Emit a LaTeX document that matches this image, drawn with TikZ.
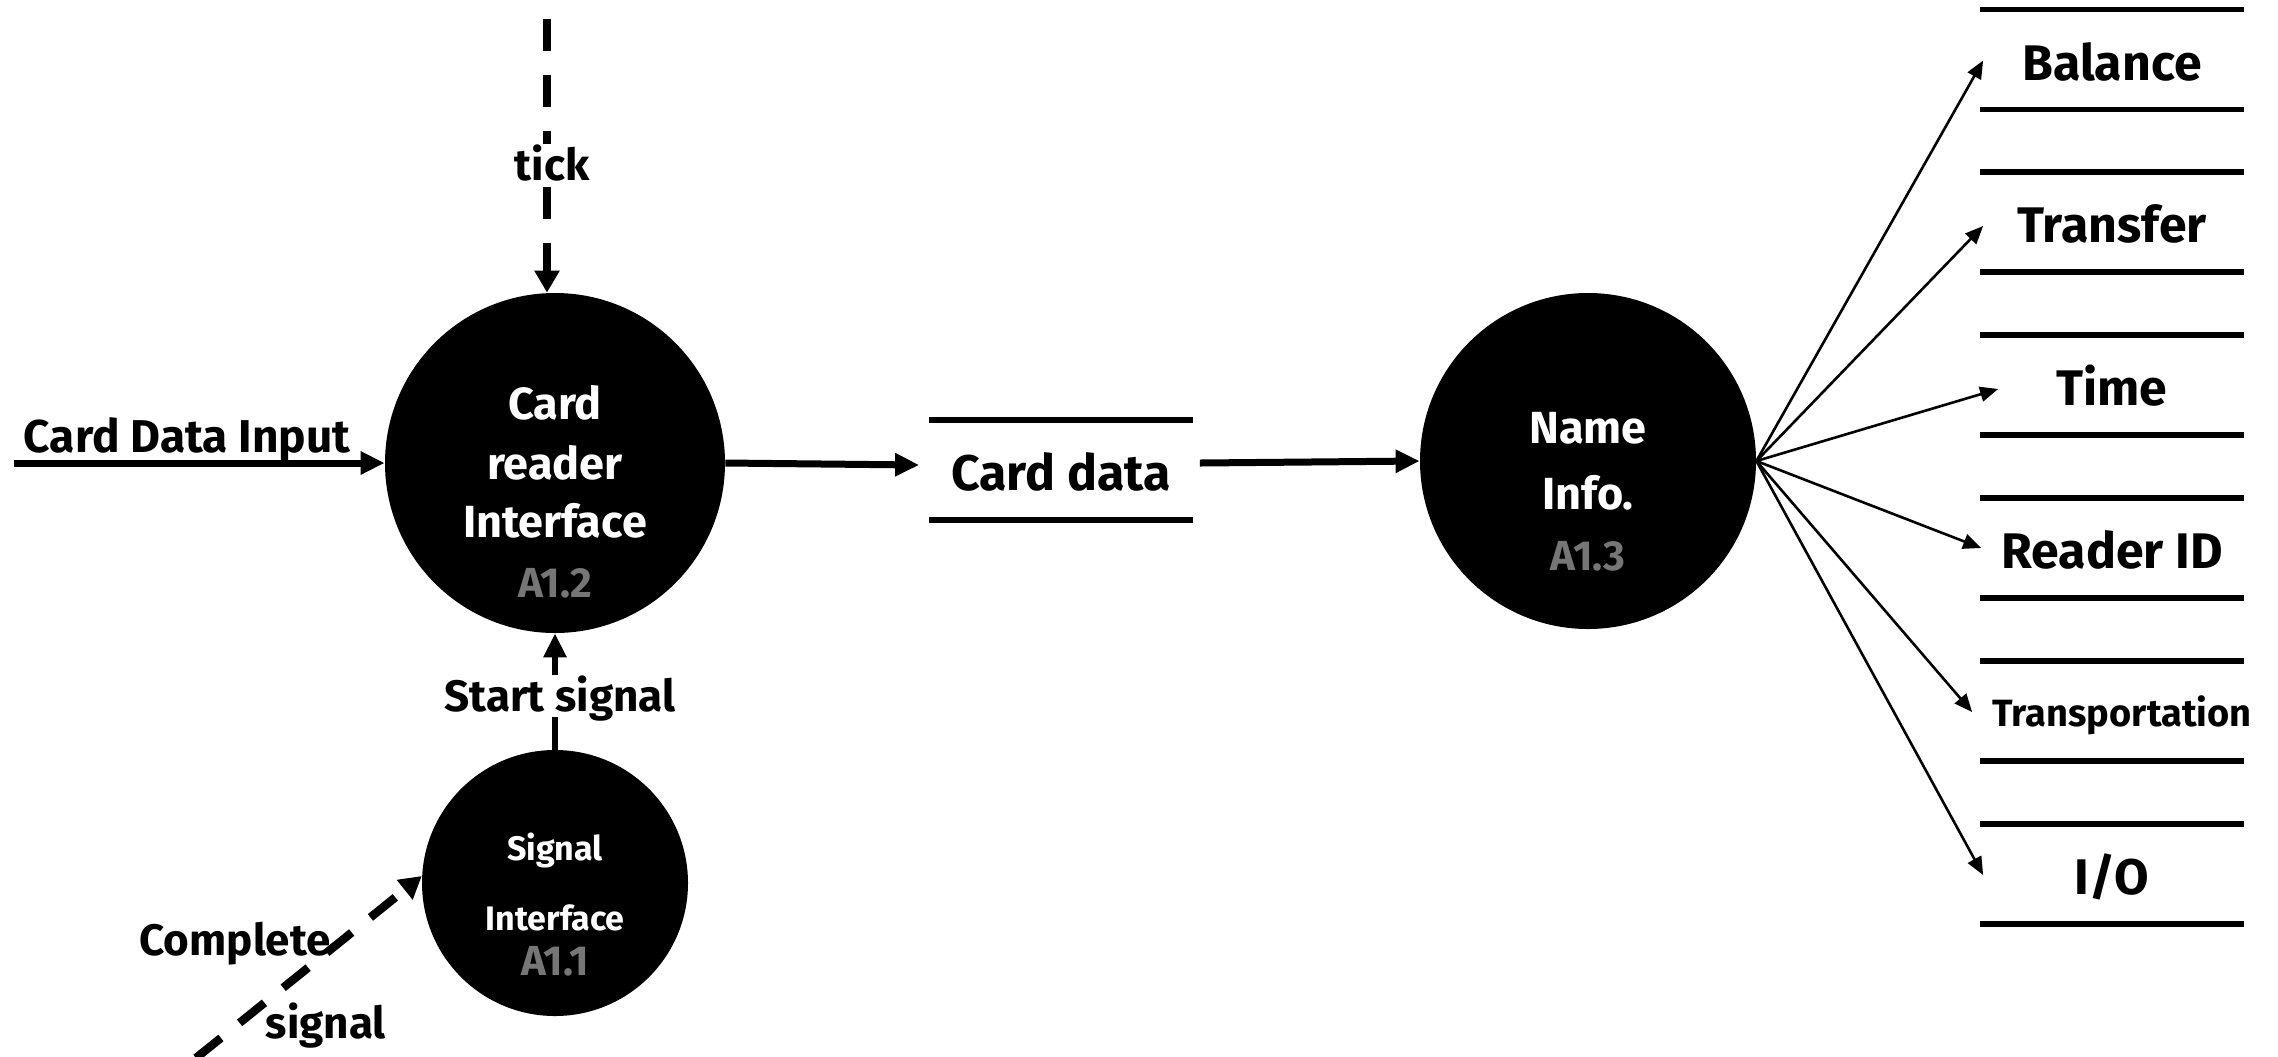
\documentclass[tikz,border=0pt]{standalone}
\usepackage{fontspec}
\setmainfont{Fira Sans}
\usetikzlibrary{arrows.meta}
\definecolor{idgray}{RGB}{118,118,118}

\begin{document}
\begin{tikzpicture}[x=0.5pt,y=-0.5pt,
  % text boxes centred on the capital height (height = 0.69 x font size)
  txt/.style={inner sep=0pt,text depth=0pt},
  lbl/.style={txt,text height=15.2pt,font=\bfseries\fontsize{22}{26}\selectfont},
  biglbl/.style={txt,text height=15.9pt,font=\bfseries\fontsize{23}{27}\selectfont},
  intext/.style={txt,text=white,text height=15.5pt,font=\bfseries\fontsize{22.5}{27}\selectfont},
  smalltext/.style={txt,text=white,text height=11.7pt,font=\bfseries\fontsize{17}{20}\selectfont},
  idtext/.style={txt,text=idgray,text height=14.5pt,font=\bfseries\fontsize{21}{25}\selectfont},
  proc/.style={circle,fill=black,draw=none,inner sep=0pt,minimum size=#1},
  store/.style={inner sep=0pt,minimum width=131.5pt,minimum height=49.5pt,
    text height=20.7pt,text depth=0pt,font=\bfseries\fontsize{25}{30}\selectfont},
  storeline/.style={line width=2.8pt},
  flow/.style={line width=3.5pt,-{Triangle[length=12pt,width=11pt]}},
  sigflow/.style={line width=4.2pt,dash pattern=on 16pt off 12pt,
    -{Triangle[length=11pt,width=12pt]}},
  fan/.style={line width=1.3pt,-{Triangle[length=9pt,width=7.5pt]}}
]
\useasboundingbox (0,0) rectangle (2278,1056);

% processes
\node[proc=170pt] (A12) at (555,463) {};
\node[proc=168pt] (A13) at (1588,461) {};
\node[proc=133pt] (S11) at (555,883) {};

\node[intext] (a12a) at (555,404) {Card};
\node[intext] (a12b) at (555,464) {reader};
\node[intext] (a12c) at (555,522) {Interface};
\node[idtext] (a12d) at (555,583) {A1.2};

\node[intext] (a13a) at (1588,428) {Name};
\node[intext] (a13b) at (1588,494) {Info.};
\node[idtext] (a13c) at (1588,556) {A1.3};

\node[smalltext] (s11a) at (555,849) {Signal};
\node[smalltext] (s11b) at (555,919) {Interface};
\node[idtext] (s11c) at (555,961) {A1.1};

% data store between the two processes
\node[store] (cd) at (1061,470) {Card data};
\draw[storeline] (cd.north west) -- (cd.north east);
\draw[storeline] (cd.south west) -- (cd.south east);

% output stores
\foreach \n/\y/\t in {st1/59.5/Balance, st2/222/Transfer, st3/385/Time,
                      st4/548/Reader ID, st6/874/{I/O}}{
  \node[store] (\n) at (2112,\y) {\t};
  \draw[storeline] (\n.north west) -- (\n.north east);
  \draw[storeline] (\n.south west) -- (\n.south east);
}
\node[store] (st5) at (2112,711) {};
\node[txt,text height=13.1pt,font=\bfseries\fontsize{19}{23}\selectfont] (st5t) at (2122,713) {Transportation};
\draw[storeline] (st5.north west) -- (st5.north east);
\draw[storeline] (st5.south west) -- (st5.south east);

% input flows
\coordinate (cdi) at (14,463);
\draw[flow] (cdi) -- (A12.west);
\node[biglbl] (cdil) at (187,437) {Card Data Input};

\coordinate (tk) at (547,19);
\draw[sigflow] (tk) -- (tk |- A12.north);
\node[lbl,fill=white,inner sep=3pt] (tkl) at (552,165) {tick};

\draw[flow,line width=3.2pt] (S11.north) -- (A12.south);
\node[lbl,fill=white,inner ysep=3pt,inner xsep=0pt] (ssl) at (560,696) {Start signal};

\coordinate (cs) at (196,1058);
\draw[sigflow] (cs) -- (S11.177);
\node[lbl] (cpl) at (235,940) {Complete};
\node[lbl] (csl) at (326,1023) {signal};

% flows through the card data store
\draw[flow] (A12.east) -- ([shift={(-10,-5)}]cd.west);
\draw[flow] ([shift={(7,-7)}]cd.east) -- (A13.west);

% fan-out to the output stores
\draw[fan] (A13.east) -- ([shift={(3,1)}]st1.west);
\draw[fan] (A13.east) -- ([shift={(3,4)}]st2.west);
\draw[fan] (A13.east) -- ([shift={(18,4)}]st3.west);
\draw[fan] (A13.east) -- ([shift={(1,0)}]st4.west);
\draw[fan] (A13.east) -- ([shift={(-8,1)}]st5.west);
\draw[fan] (A13.east) -- ([shift={(3,1)}]st6.west);
\end{tikzpicture}
\end{document}
